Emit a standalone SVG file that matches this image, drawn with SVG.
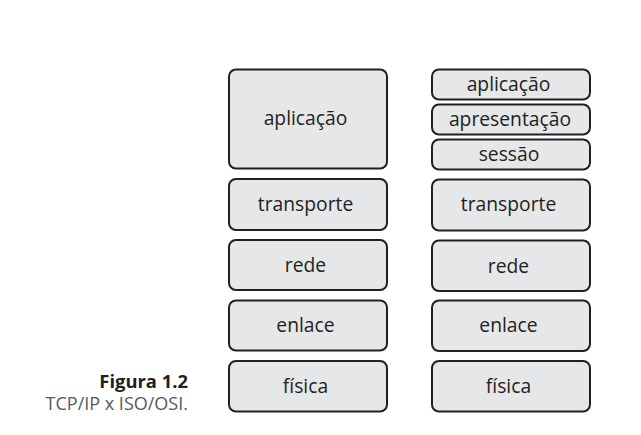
<svg xmlns="http://www.w3.org/2000/svg" width="641" height="435" viewBox="0 0 641 435">
<style>
.b{fill:#e6e7e8;stroke:#231f20;stroke-width:2}
.t{font-family:"Open Sans",sans-serif;font-size:19.3px;fill:#231f20;text-anchor:middle}
</style>
<rect width="641" height="435" fill="#fff"/>
<g id="tcpip">
<g id="l-aplicacao"><rect class="b" x="229" y="69.5" width="158" height="99" rx="7"/><text class="t" x="305.5" y="125">aplicação</text></g>
<g id="l-transporte"><rect class="b" x="229" y="179" width="158" height="51" rx="7"/><text class="t" x="305.5" y="211">transporte</text></g>
<g id="l-rede"><rect class="b" x="229" y="240" width="158" height="50" rx="7"/><text class="t" x="305.5" y="272">rede</text></g>
<g id="l-enlace"><rect class="b" x="229" y="300.5" width="158" height="50" rx="7"/><text class="t" x="305.5" y="332">enlace</text></g>
<g id="l-fisica"><rect class="b" x="229" y="361" width="158" height="50.5" rx="7"/><text class="t" x="305.5" y="393">física</text></g>
</g>
<g id="osi">
<g id="r-aplicacao"><rect class="b" x="432" y="69.5" width="158" height="30" rx="7"/><text class="t" x="508.5" y="91">aplicação</text></g>
<g id="r-apresentacao"><rect class="b" x="432" y="104.5" width="158" height="30" rx="7"/><text class="t" x="510" y="126">apresentação</text></g>
<g id="r-sessao"><rect class="b" x="432" y="139.5" width="158" height="30" rx="7"/><text class="t" x="509" y="161">sessão</text></g>
<g id="r-transporte"><rect class="b" x="432" y="179.5" width="158" height="51" rx="7"/><text class="t" x="508.5" y="211">transporte</text></g>
<g id="r-rede"><rect class="b" x="432" y="240.5" width="158" height="50.5" rx="7"/><text class="t" x="508.5" y="273">rede</text></g>
<g id="r-enlace"><rect class="b" x="432" y="300.5" width="158" height="50.5" rx="7"/><text class="t" x="508.5" y="332">enlace</text></g>
<g id="r-fisica"><rect class="b" x="432" y="361" width="158" height="50.5" rx="7"/><text class="t" x="508.5" y="393">física</text></g>
</g>
<g id="connectors"/>
<g id="caption" font-family="'Open Sans',sans-serif" text-anchor="end">
<text x="188" y="388" font-size="18.4" font-weight="bold" fill="#231f20">Figura 1.2</text>
<text x="188" y="410" font-size="18" fill="#58595b">TCP/IP x ISO/OSI.</text>
</g>
</svg>
